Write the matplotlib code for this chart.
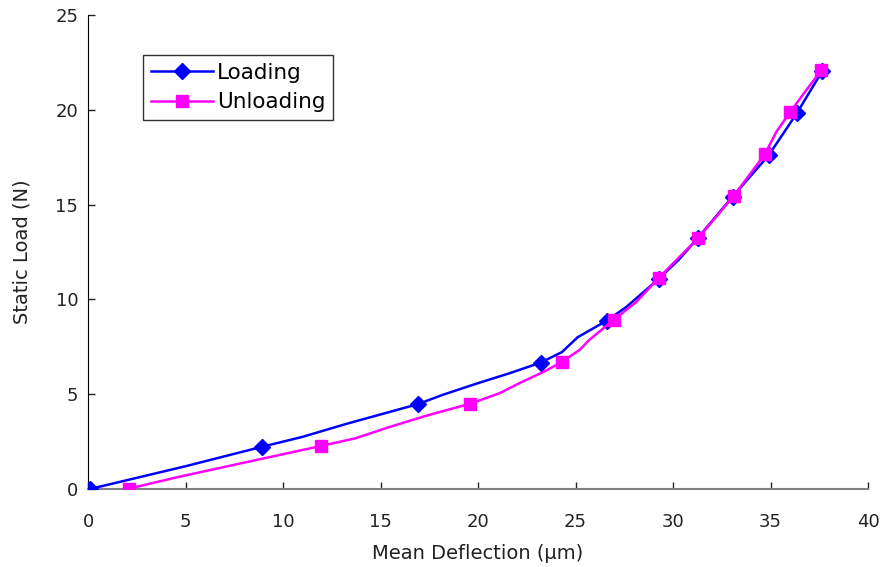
import matplotlib
matplotlib.use("Agg")
import matplotlib.pyplot as plt

plt.rcParams['font.family'] = ['DejaVu Sans']

# Loading curve: deflection (µm) and load (N); markers on measured load steps
loading_x = [0.1, 5.0, 8.9, 11.0, 13.3, 16.9, 18.2, 19.9, 21.6, 23.2, 24.3, 25.1,
             26.6, 27.6, 29.25, 30.3, 31.25, 33.05, 34.9, 36.35, 37.65]
loading_y = [0.0, 1.2, 2.22, 2.75, 3.45, 4.47, 4.97, 5.55, 6.1, 6.66, 7.22, 8.0,
             8.88, 9.6, 11.07, 12.1, 13.22, 15.42, 17.6, 19.83, 22.05]
loading_marks = [0, 2, 5, 9, 12, 14, 16, 17, 18, 19, 20]

# Unloading curve
unloading_x = [2.1, 4.7, 11.95, 13.7, 15.4, 17.3, 19.6, 21.1, 22.1, 23.5, 24.3,
               25.2, 25.7, 26.95, 28.1, 29.25, 31.3, 33.1, 34.7, 35.3, 36.0, 36.8, 37.6]
unloading_y = [0.02, 0.65, 2.27, 2.67, 3.25, 3.85, 4.5, 5.05, 5.57, 6.25, 6.71,
               7.33, 7.86, 8.92, 9.85, 11.12, 13.25, 15.45, 17.65, 18.85, 19.88, 21.0, 22.08]
unloading_marks = [0, 2, 6, 10, 13, 15, 16, 17, 18, 20, 22]

x_ticks = [0, 5, 10, 15, 20, 25, 30, 35, 40]
y_ticks = [0, 5, 10, 15, 20, 25]

fig = plt.figure(figsize=(8.83, 5.67), dpi=100)
ax = fig.add_axes([0.0997, 0.1376, 0.8835, 0.836])

ax.plot(loading_x, loading_y, color='#0000FF', lw=1.8, marker='D', ms=8.5,
        markevery=loading_marks, label='Loading', zorder=3)
ax.plot(unloading_x, unloading_y, color='#FF00FF', lw=1.8, marker='s', ms=8.5,
        markevery=unloading_marks, label='Unloading', zorder=4)

ax.set_xlim(0, 40)
ax.set_ylim(0, 25)
ax.set_xticks(x_ticks)
ax.set_yticks(y_ticks)
ax.tick_params(direction='in', length=5, width=1, labelsize=13,
               colors='#222222')
ax.tick_params(axis='x', pad=17)
ax.tick_params(axis='y', pad=7)

for side in ('top', 'right'):
    ax.spines[side].set_visible(False)
ax.spines['left'].set_color('black')
ax.spines['bottom'].set_color('#808080')
ax.spines['bottom'].set_linewidth(1.5)

ax.set_xlabel('Mean Deflection (µm)', fontsize=14, color='#222222', labelpad=10)
ax.set_ylabel('Static Load (N)', fontsize=14, color='#222222', labelpad=17)

leg = ax.legend(loc='upper left', bbox_to_anchor=(0.0705, 0.9156), fontsize=15.5,
                frameon=True, fancybox=False, edgecolor='black', handlelength=2.9,
                borderpad=0.35, labelspacing=0.45, handletextpad=0.2, borderaxespad=0)
leg.get_frame().set_linewidth(1.0)

fig.savefig('out.png', dpi=100, facecolor='white')
